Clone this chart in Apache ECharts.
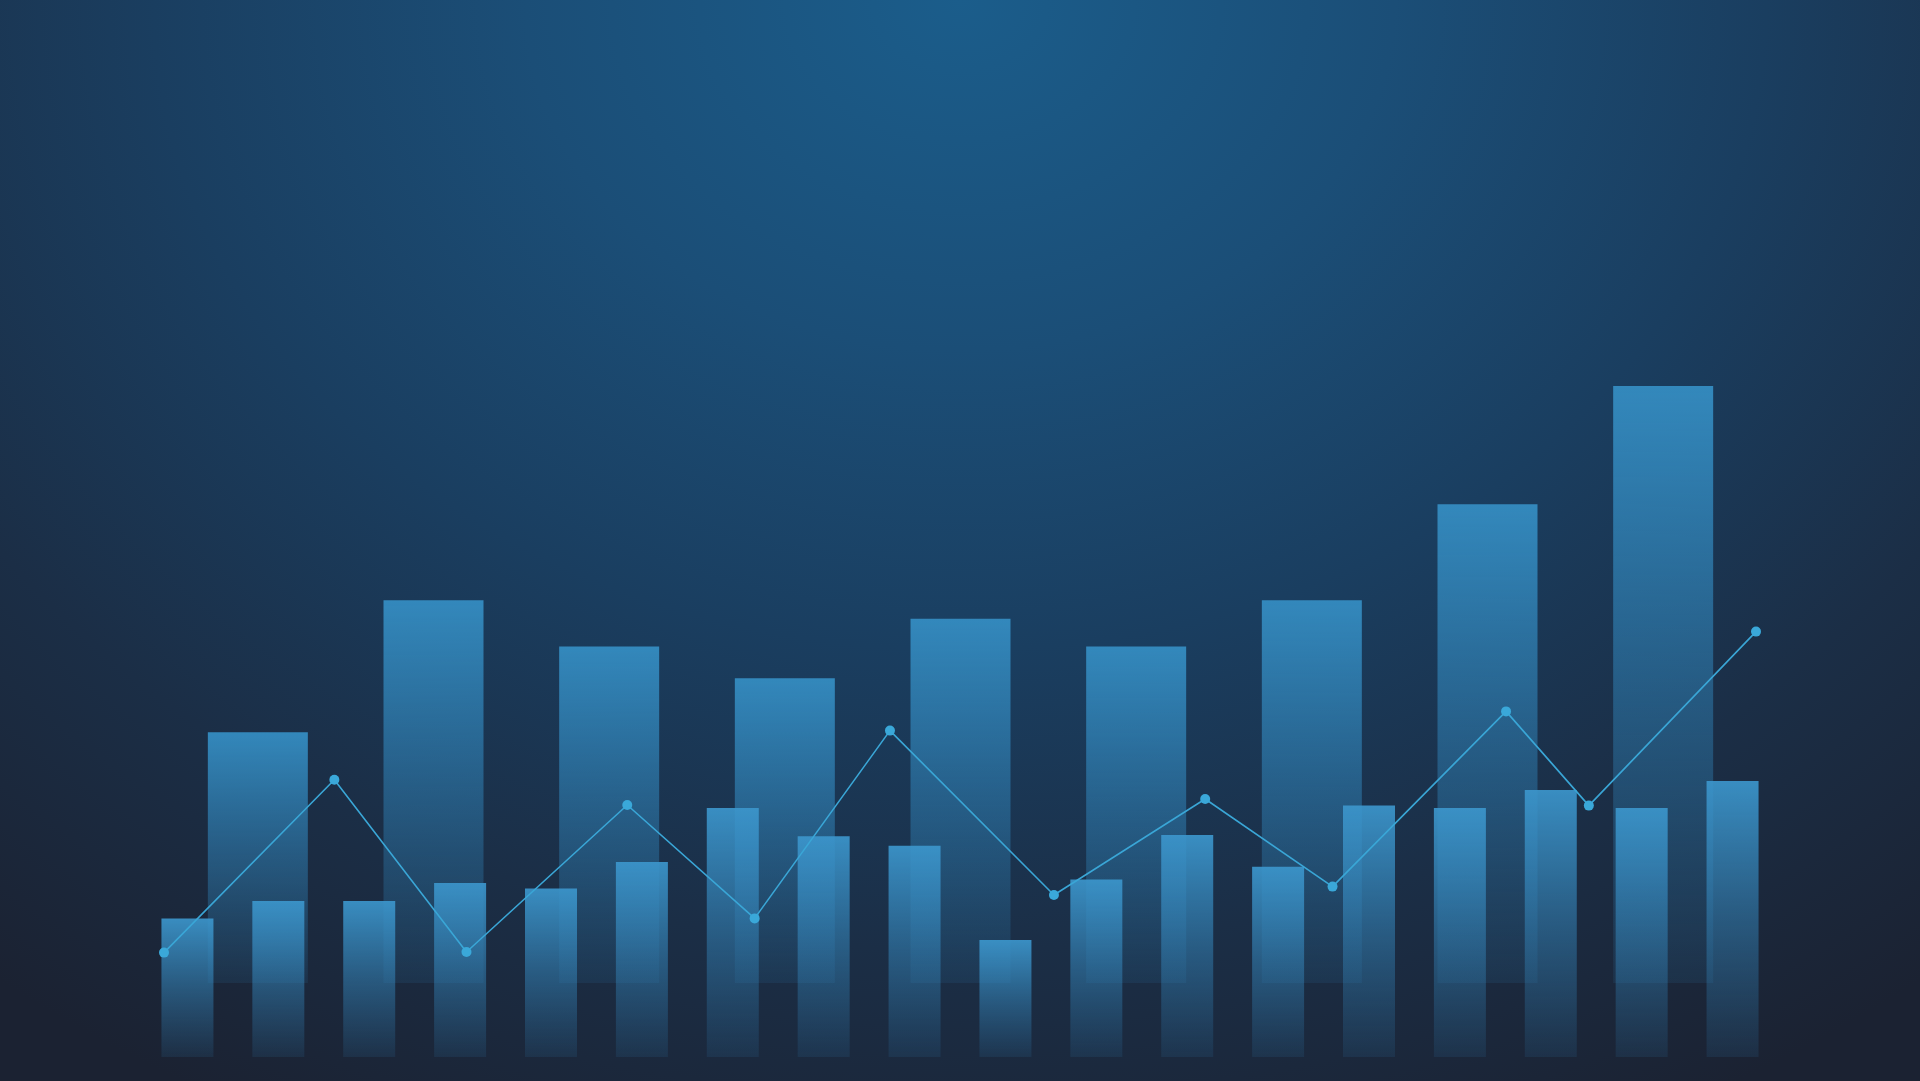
<!DOCTYPE html>
<html>
<head>
<meta charset="utf-8">
<script src="https://cdn.jsdelivr.net/npm/echarts@6/dist/echarts.min.js"></script>
<style>
html, body { margin: 0; padding: 0; width: 100%; height: 100%; overflow: hidden; }
body {
  background: radial-gradient(ellipse 1550px 1250px at 50% 0%, #1b5d8b 0%, #1b4e77 28%, #1a3e60 52%, #1b2e46 76%, #1b2232 100%);
}
#chart { width: 1920px; height: 1081px; }
</style>
</head>
<body>
<div id="chart"></div>
<script>
// Back (wide) bars
const backCategories = ['P1', 'P2', 'P3', 'P4', 'P5', 'P6', 'P7', 'P8', 'P9'];
const backValues = [41.8, 63.8, 56.1, 50.8, 60.7, 56.1, 63.8, 79.8, 99.5];

// Front (narrow) bars
const frontCategories = ['S1', 'S2', 'S3', 'S4', 'S5', 'S6', 'S7', 'S8', 'S9',
  'S10', 'S11', 'S12', 'S13', 'S14', 'S15', 'S16', 'S17', 'S18'];
const frontValues = [23.1, 26.0, 26.0, 29.0, 28.1, 32.5, 41.5, 36.8, 35.2,
  19.5, 29.6, 37.0, 31.7, 41.9, 41.5, 44.5, 41.5, 46.0];

// Trend line (x position along the period, y value)
const trendX = [0, 10.7, 19.0, 29.1, 37.1, 45.6, 55.9, 65.4, 73.4, 84.3, 89.5, 100];
const trendY = [17.4, 46.2, 17.5, 42.0, 23.1, 54.4, 27.0, 43.0, 28.4, 57.6, 41.9, 70.9];

const chart = echarts.init(document.getElementById('chart'), null, { renderer: 'canvas' });

function vgrad(stops) {
  return { type: 'linear', x: 0, y: 0, x2: 0, y2: 1, colorStops: stops };
}

const option = {
  backgroundColor: 'transparent',
  animation: false,
  grid: [
    { left: 170, right: 169, top: 383, bottom: 98 },
    { left: 142, right: 142, top: 457, bottom: 24 },
    { left: 164, right: 164, top: 457, bottom: 24 }
  ],
  xAxis: [
    { type: 'category', gridIndex: 0, data: backCategories, show: false },
    { type: 'category', gridIndex: 1, data: frontCategories, show: false },
    { type: 'value', gridIndex: 2, min: 0, max: 100, show: false }
  ],
  yAxis: [
    { type: 'value', gridIndex: 0, min: 0, max: 100, show: false },
    { type: 'value', gridIndex: 1, min: 0, max: 100, show: false },
    { type: 'value', gridIndex: 2, min: 0, max: 100, show: false }
  ],
  series: [
    {
      name: 'back',
      type: 'bar',
      xAxisIndex: 0, yAxisIndex: 0,
      data: backValues,
      barWidth: 100,
      z: 1,
      itemStyle: {
        color: vgrad([
          { offset: 0, color: 'rgba(52,138,190,0.98)' },
          { offset: 0.5, color: 'rgba(48,128,180,0.55)' },
          { offset: 1, color: 'rgba(45,120,170,0.14)' }
        ])
      }
    },
    {
      name: 'front',
      type: 'bar',
      xAxisIndex: 1, yAxisIndex: 1,
      data: frontValues,
      barWidth: 52,
      z: 3,
      itemStyle: {
        color: vgrad([
          { offset: 0, color: 'rgba(60,150,204,0.92)' },
          { offset: 0.5, color: 'rgba(55,140,195,0.5)' },
          { offset: 1, color: 'rgba(50,130,185,0.13)' }
        ])
      }
    },
    {
      name: 'trend',
      type: 'line',
      xAxisIndex: 2, yAxisIndex: 2,
      data: trendX.map((x, i) => [x, trendY[i]]),
      z: 5,
      symbol: 'circle',
      symbolSize: 10,
      lineStyle: { color: '#3aa6d6', width: 1.6 },
      itemStyle: { color: '#3aa8d9', borderWidth: 0 }
    }
  ]
};

chart.setOption(option);
</script>
</body>
</html>
